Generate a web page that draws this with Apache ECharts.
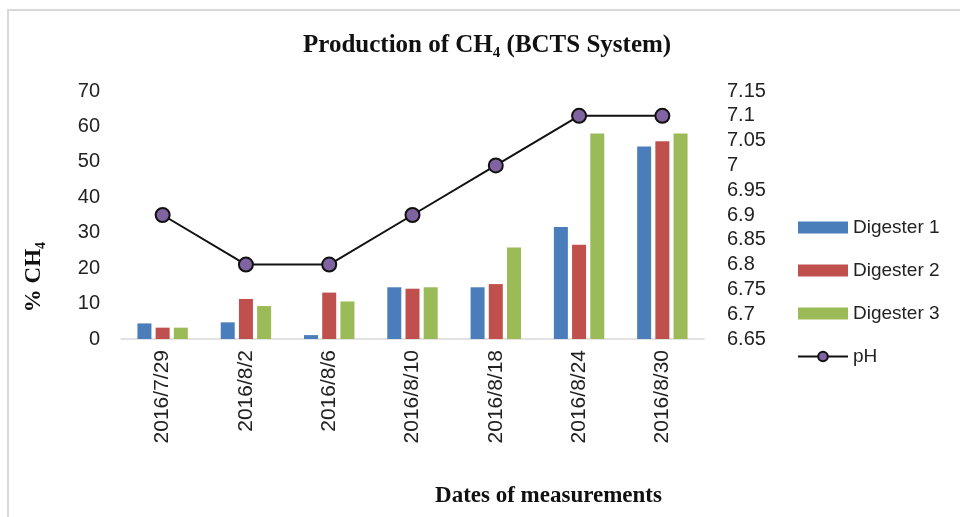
<!DOCTYPE html>
<html>
<head>
<meta charset="utf-8">
<title>Production of CH4 (BCTS System)</title>
<script src="https://cdn.jsdelivr.net/npm/echarts@6/dist/echarts.min.js"></script>
<style>
    html, body { margin: 0; padding: 0; background: #fff; }
    #chart { width: 960px; height: 517px; }
</style>
</head>
<body>
<div id="chart"></div>
<script>
// data
var dates = ['2016/7/29', '2016/8/2', '2016/8/6', '2016/8/10', '2016/8/18', '2016/8/24', '2016/8/30'];
var digester1 = [4.4, 4.7, 1.1, 14.6, 14.6, 31.6, 54.3];
var digester2 = [3.2, 11.3, 13.1, 14.2, 15.5, 26.6, 55.8];
var digester3 = [3.2, 9.3, 10.6, 14.6, 25.8, 58, 58];
var ph = [6.9, 6.8, 6.8, 6.9, 7.0, 7.1, 7.1];

var serifFont = '"Liberation Serif", "DejaVu Serif", serif';
var sansFont = '"Liberation Sans", Arial, sans-serif';

function drawChart(id) {
    var chart = echarts.init(document.getElementById(id));
    var options = {
        backgroundColor: '#fff',
        textStyle: { fontFamily: sansFont, color: '#222' },
        graphic: [{
            type: 'rect',
            shape: { x: 8, y: 10, width: 1000, height: 600 },
            style: { fill: 'none', stroke: '#d9d9d9', lineWidth: 2 },
            silent: true
        }],
        title: {
            text: '{a|Production of CH}{sub|4}{a| (BCTS System)}',
            left: 298,
            top: 26,
            textStyle: {
                rich: {
                    a: { fontFamily: serifFont, fontWeight: 'bold', fontSize: 25, color: '#111', lineHeight: 30 },
                    sub: { fontFamily: serifFont, fontWeight: 'bold', fontSize: 15, color: '#111', lineHeight: 15, verticalAlign: 'bottom' }
                }
            }
        },
        legend: {
            orient: 'vertical',
            left: 797,
            top: 218,
            padding: 0,
            itemWidth: 50,
            itemHeight: 12,
            itemGap: 24,
            textStyle: { fontFamily: sansFont, fontSize: 19, color: '#222' },
            data: [
                { name: 'Digester 1', icon: 'rect' },
                { name: 'Digester 2', icon: 'rect' },
                { name: 'Digester 3', icon: 'rect' },
                { name: 'pH' }
            ]
        },
        grid: {
            left: 121,
            right: 256,
            top: 91,
            bottom: 178,
            containLabel: false
        },
        xAxis: {
            type: 'category',
            data: dates,
            name: 'Dates of measurements',
            nameLocation: 'middle',
            nameGap: 146,
            nameTextStyle: {
                fontFamily: serifFont, fontWeight: 'bold', fontSize: 23, color: '#111',
                padding: [0, 0, 0, 272]
            },
            axisLine: { show: true, lineStyle: { color: '#d9d9d9', width: 1.5 } },
            axisTick: { show: false },
            axisLabel: { rotate: 90, margin: 11, fontSize: 21, color: '#222' }
        },
        yAxis: [{
            type: 'value',
            min: 0,
            max: 70,
            interval: 10,
            name: '{a|% CH}{sub|4}',
            nameLocation: 'middle',
            nameRotate: 90,
            nameGap: 73,
            nameTextStyle: {
                padding: [0, 124, 0, 0],
                rich: {
                    a: { fontFamily: serifFont, fontWeight: 'bold', fontSize: 23, color: '#111', lineHeight: 28 },
                    sub: { fontFamily: serifFont, fontWeight: 'bold', fontSize: 14, color: '#111', lineHeight: 14, verticalAlign: 'bottom' }
                }
            },
            axisLine: { show: false },
            axisTick: { show: false },
            splitLine: { show: false },
            axisLabel: { margin: 21, fontSize: 20, color: '#222' }
        }, {
            type: 'value',
            min: 6.65,
            max: 7.15,
            interval: 0.05,
            position: 'right',
            axisLine: { show: false },
            axisTick: { show: false },
            splitLine: { show: false },
            axisLabel: {
                margin: 23,
                fontSize: 20,
                color: '#222',
                formatter: function (v) { return String(parseFloat(v.toFixed(2))); }
            }
        }],
        series: [{
            name: 'Digester 1',
            type: 'bar',
            barWidth: 14,
            barGap: '30%',
            itemStyle: { color: '#4a7ebb' },
            data: digester1
        }, {
            name: 'Digester 2',
            type: 'bar',
            barWidth: 14,
            barGap: '30%',
            itemStyle: { color: '#c0504d' },
            data: digester2
        }, {
            name: 'Digester 3',
            type: 'bar',
            barWidth: 14,
            barGap: '30%',
            itemStyle: { color: '#9bbb59' },
            data: digester3
        }, {
            name: 'pH',
            type: 'line',
            yAxisIndex: 1,
            symbol: 'circle',
            symbolSize: 14,
            lineStyle: { color: '#111', width: 2 },
            itemStyle: { color: '#8064a2', borderColor: '#111', borderWidth: 2 },
            z: 5,
            data: ph
        }]
    };
    chart.setOption(options);
    return chart;
}

drawChart('chart');
</script>
</body>
</html>
